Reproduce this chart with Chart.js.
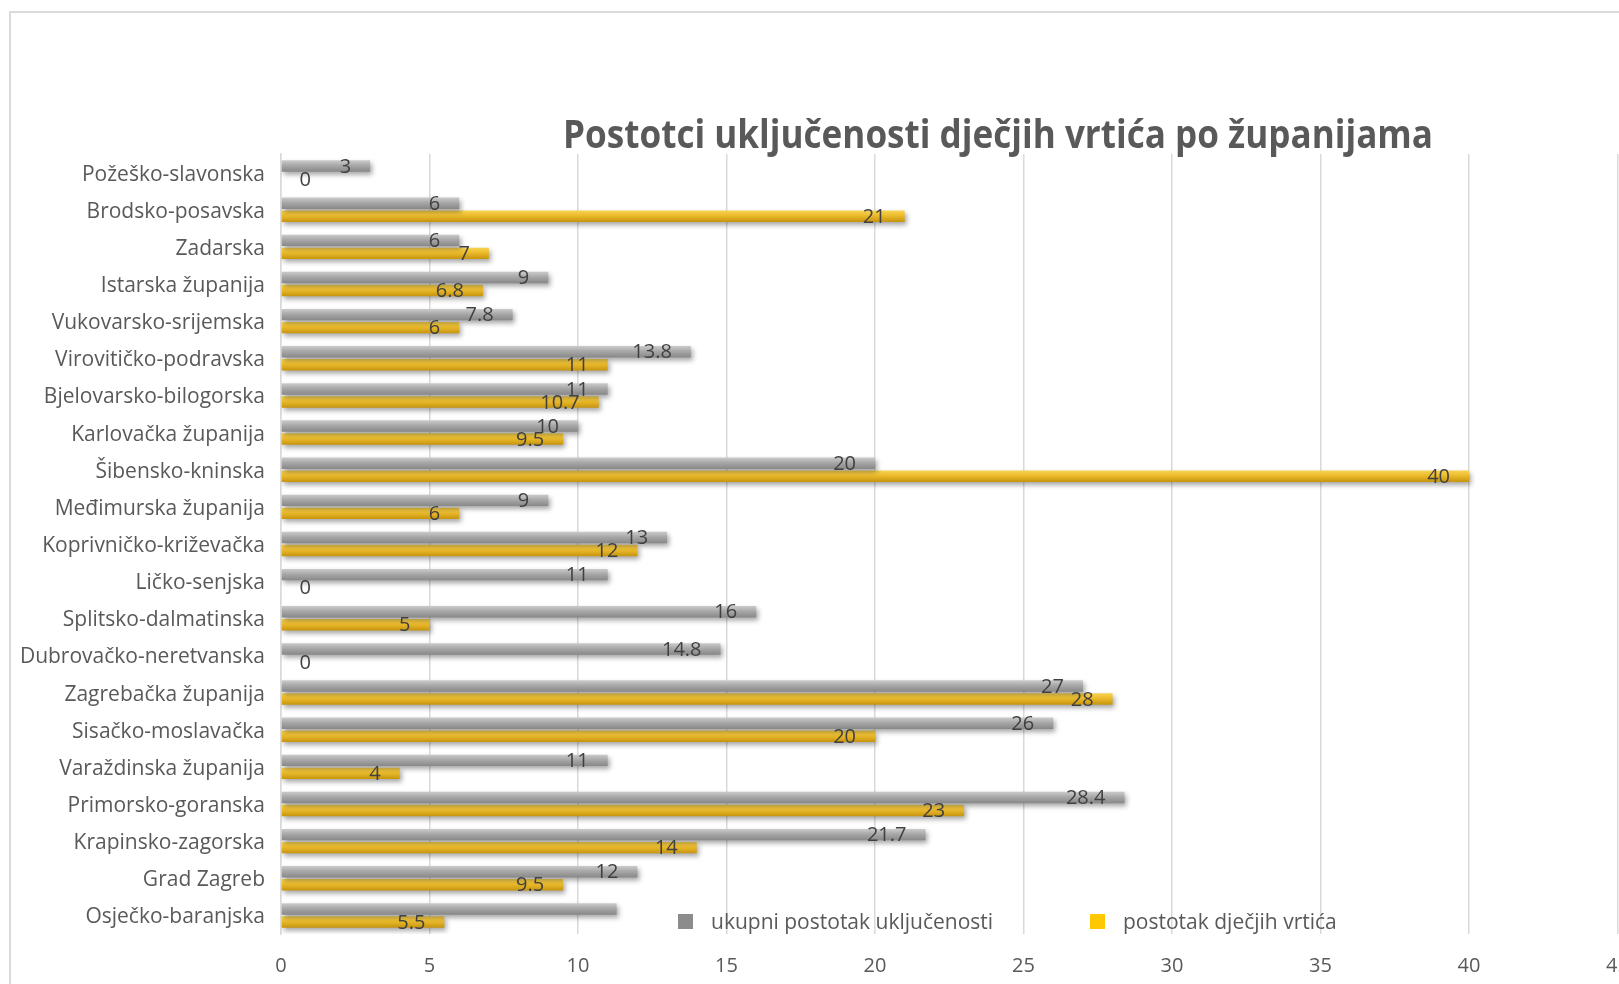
<!DOCTYPE html>
<html>
<head>
<meta charset="utf-8">
<script src="https://cdn.jsdelivr.net/npm/chart.js@4/dist/chart.umd.min.js"></script>
<style>
  html, body { margin: 0; padding: 0; background: #fff; overflow: hidden; }
  #frame { position: absolute; left: 9px; top: 11px; width: 1700px; height: 1100px; border: 2px solid #dadada; }
  #wrap { position: absolute; left: 0; top: 0; width: 1640px; height: 984px; }
</style>
</head>
<body>
<div id="frame"></div>
<div id="wrap"><canvas id="zupanijeChart"></canvas></div>
<script>
const zupanije = ['Požeško-slavonska', 'Brodsko-posavska', 'Zadarska', 'Istarska županija', 'Vukovarsko-srijemska',
    'Virovitičko-podravska', 'Bjelovarsko-bilogorska', 'Karlovačka županija', 'Šibensko-kninska', 'Međimurska županija',
    'Koprivničko-križevačka', 'Ličko-senjska', 'Splitsko-dalmatinska', 'Dubrovačko-neretvanska', 'Zagrebačka županija',
    'Sisačko-moslavačka', 'Varaždinska županija', 'Primorsko-goranska', 'Krapinsko-zagorska', 'Grad Zagreb', 'Osječko-baranjska'];
const ukupno = [3, 6, 6, 9, 7.8, 13.8, 11, 10, 20, 9, 13, 11, 16, 14.8, 27, 26, 11, 28.4, 21.7, 12, 11.3];
const ukupnoLabels = ['3', '6', '6', '9', '7.8', '13.8', '11', '10', '20', '9', '13', '11', '16', '14.8', '27', '26', '11', '28.4', '21.7', '12', ''];
const vrtici = [0, 21, 7, 6.8, 6, 11, 10.7, 9.5, 40, 6, 12, 0, 5, 0, 28, 20, 4, 23, 14, 9.5, 5.5];
const vrticiLabels = ['0', '21', '7', '6.8', '6', '11', '10.7', '9.5', '40', '6', '12', '0', '5', '0', '28', '20', '4', '23', '14', '9.5', '5.5'];
const xTicks = [0, 5, 10, 15, 20, 25, 30, 35, 40, 45];
const naslov = 'Postotci uključenosti dječjih vrtića po županijama';
const legendaNazivi = ['ukupni postotak uključenosti', 'postotak dječjih vrtića'];

const FONT = "'Open Sans', 'Noto Sans', sans-serif";
const TEXT = '#595959';

// vertical gradient for each bar, so it looks a bit like the excel 3d style
function barFill(c, offset, stops) {
    const chart = c.chart;
    const y = chart.scales && chart.scales.y;
    if (!chart.chartArea || !y || c.dataIndex === undefined) return stops[1];
    const cy = y.getPixelForValue(c.dataIndex) + offset;
    const g = chart.ctx.createLinearGradient(0, cy - 6, 0, cy + 6);
    g.addColorStop(0, stops[0]);
    g.addColorStop(0.45, stops[1]);
    g.addColorStop(1, stops[2]);
    return g;
}

const barShadow = {
    id: 'barShadow',
    beforeDatasetsDraw(chart) {
        const ctx = chart.ctx;
        ctx.save();
        ctx.shadowColor = 'rgba(0, 0, 0, 0.35)';
        ctx.shadowBlur = 5;
        ctx.shadowOffsetX = 2;
        ctx.shadowOffsetY = 3;
    },
    afterDatasetsDraw(chart) {
        chart.ctx.restore();
    }
};

const valueLabels = {
    id: 'valueLabels',
    afterDatasetsDraw(chart) {
        const ctx = chart.ctx;
        const left = chart.chartArea.left;
        ctx.save();
        ctx.font = '20px ' + FONT;
        ctx.fillStyle = '#404040';
        ctx.textAlign = 'right';
        ctx.textBaseline = 'middle';
        chart.data.datasets.forEach((ds, di) => {
            const meta = chart.getDatasetMeta(di);
            meta.data.forEach((bar, i) => {
                const txt = ds.valueLabels[i];
                if (!txt) return;
                const x = Math.max(bar.x - 19, left + 30);
                ctx.fillText(txt, x, bar.y + 1);
            });
        });
        ctx.restore();
    }
};

const titleAndLegend = {
    id: 'titleAndLegend',
    afterDraw(chart) {
        const ctx = chart.ctx;
        ctx.save();
        ctx.fillStyle = TEXT;
        ctx.font = "bold 40px 'Open Sans', sans-serif";
        ctx.textAlign = 'center';
        ctx.textBaseline = 'alphabetic';
        // excel title font is condensed, squeeze it to the same width
        const w = ctx.measureText(naslov).width;
        ctx.translate(998, 148);
        ctx.scale(870 / w, 1);
        ctx.fillText(naslov, 0, 0);
        ctx.restore();

        const items = [
            { x: 678, color: '#8c8c8c', text: legendaNazivi[0] },
            { x: 1090, color: '#ffc800', text: legendaNazivi[1] }
        ];
        ctx.save();
        ctx.font = '21px ' + FONT;
        ctx.textAlign = 'left';
        ctx.textBaseline = 'middle';
        items.forEach(it => {
            ctx.fillStyle = it.color;
            ctx.fillRect(it.x, 914, 15, 15);
            ctx.fillStyle = TEXT;
            ctx.fillText(it.text, it.x + 33, 923);
        });
        ctx.restore();
    }
};

const ctx = document.getElementById('zupanijeChart').getContext('2d');
new Chart(ctx, {
    type: 'bar',
    data: {
        labels: zupanije,
        datasets: [
            {
                label: legendaNazivi[0],
                data: ukupno,
                valueLabels: ukupnoLabels,
                backgroundColor: c => barFill(c, -6.5, ['#cdcdcd', '#a8a8a8', '#868686'])
            },
            {
                label: legendaNazivi[1],
                data: vrtici,
                valueLabels: vrticiLabels,
                backgroundColor: c => barFill(c, 6.5, ['#f8d454', '#ecbb2c', '#c4920c'])
            }
        ]
    },
    options: {
        indexAxis: 'y',
        responsive: true,
        maintainAspectRatio: false,
        animation: false,
        categoryPercentage: 0.7,
        barPercentage: 0.88,
        layout: {
            padding: { top: 154, right: 22.5, bottom: 0, left: 0 }
        },
        plugins: {
            legend: { display: false },
            title: { display: false },
            tooltip: { enabled: false }
        },
        scales: {
            x: {
                min: 0,
                max: 45,
                afterBuildTicks: scale => {
                    scale.ticks = xTicks.map(v => ({ value: v }));
                },
                afterFit: scale => {
                    scale.height = 50;
                    scale.paddingLeft = 0;
                    scale.paddingRight = 0;
                },
                grid: {
                    color: '#d9d9d9',
                    lineWidth: 1.5,
                    drawTicks: false
                },
                border: { display: false },
                ticks: {
                    padding: 20,
                    color: TEXT,
                    font: { family: FONT, size: 20 }
                }
            },
            y: {
                afterFit: scale => {
                    scale.width = 281;
                },
                grid: { display: false },
                border: { color: '#d9d9d9', width: 1.5 },
                ticks: {
                    padding: 8,
                    labelOffset: 2,
                    color: TEXT,
                    font: { family: FONT, size: 21 }
                }
            }
        }
    },
    plugins: [barShadow, valueLabels, titleAndLegend]
});
</script>
</body>
</html>
